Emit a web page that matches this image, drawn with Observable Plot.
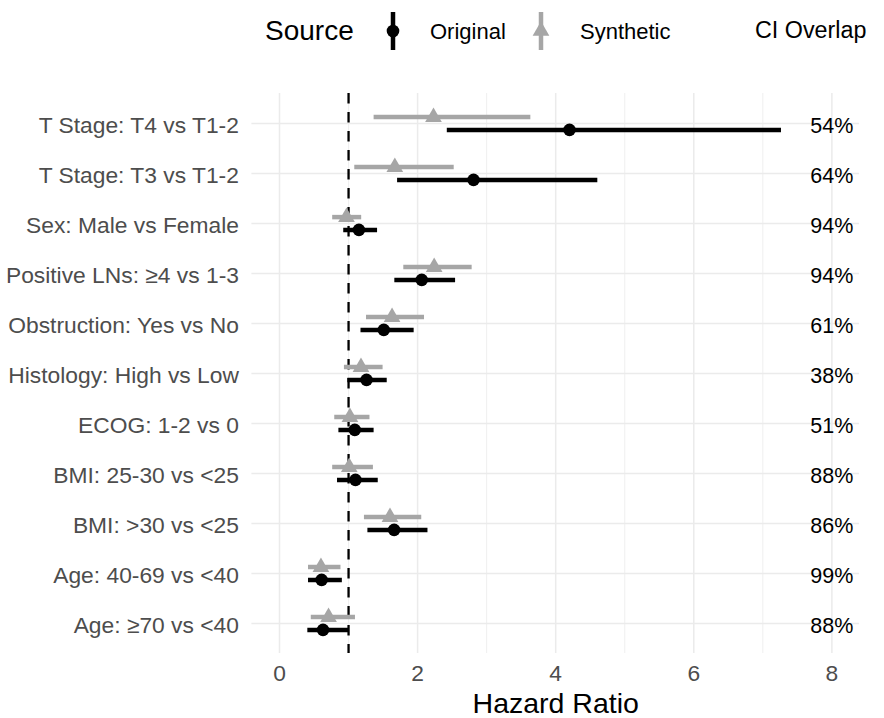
<!DOCTYPE html>
<html>
<head>
<meta charset="utf-8">
<script src="https://cdn.jsdelivr.net/npm/d3@7"></script>
<script src="https://cdn.jsdelivr.net/npm/@observablehq/plot@0.6"></script>
<style>
  html, body { margin: 0; padding: 0; background: #fff; }
  #wrap { position: relative; width: 884px; height: 718px; font-family: "Liberation Sans", Arial, sans-serif; }
  .lg { position: absolute; white-space: nowrap; color: #000; }
  #chart { position: absolute; left: 0; top: 0; }
</style>
</head>
<body>
<div id="wrap">
  <div id="chart"></div>
  <div class="lg" style="left:265px; top:17px; font-size:28px; line-height:28px;">Source</div>
  <svg class="lg" style="left:380px; top:8px;" width="26" height="46">
    <line x1="13" x2="13" y1="4" y2="42" stroke="#000" stroke-width="4.5"></line>
    <circle cx="13" cy="23" r="6.3" fill="#000"></circle>
  </svg>
  <div class="lg" style="left:430px; top:21px; font-size:22px; line-height:22px;">Original</div>
  <svg class="lg" style="left:528px; top:8px;" width="26" height="46">
    <line x1="13" x2="13" y1="4" y2="42" stroke="#A6A6A6" stroke-width="4.5"></line>
    <path id="legtri" fill="#A6A6A6"></path>
  </svg>
  <div class="lg" style="left:580px; top:21px; font-size:22px; line-height:22px;">Synthetic</div>
  <div class="lg" style="left:755px; top:19px; font-size:23.3px; line-height:23.3px;">CI Overlap</div>
</div>
<script>
const terms = [
  "T Stage: T4 vs T1-2",
  "T Stage: T3 vs T1-2",
  "Sex: Male vs Female",
  "Positive LNs: ≥4 vs 1-3",
  "Obstruction: Yes vs No",
  "Histology: High vs Low",
  "ECOG: 1-2 vs 0",
  "BMI: 25-30 vs <25",
  "BMI: >30 vs <25",
  "Age: 40-69 vs <40",
  "Age: ≥70 vs <40"
];
const origHR = [4.20, 2.81, 1.15, 2.06, 1.51, 1.26, 1.09, 1.10, 1.66, 0.61, 0.63];
const origLo = [2.43, 1.71, 0.93, 1.67, 1.18, 0.99, 0.86, 0.84, 1.28, 0.42, 0.41];
const origHi = [7.27, 4.61, 1.42, 2.55, 1.95, 1.56, 1.37, 1.43, 2.15, 0.91, 1.00];
const synHR  = [2.23, 1.67, 0.97, 2.24, 1.63, 1.18, 1.02, 1.01, 1.60, 0.60, 0.71];
const synLo  = [1.37, 1.09, 0.77, 1.80, 1.26, 0.94, 0.80, 0.77, 1.23, 0.42, 0.46];
const synHi  = [3.64, 2.53, 1.19, 2.79, 2.10, 1.50, 1.31, 1.36, 2.06, 0.89, 1.10];
const overlap = ["54%", "64%", "94%", "94%", "61%", "38%", "51%", "88%", "86%", "99%", "88%"];
const xTicks = [0, 2, 4, 6, 8];
const xMinor = [1, 3, 5, 7];
const refHR = 1;
const overlapX = 8;

const orig = terms.map((t, i) => ({term: t, hr: origHR[i], lo: origLo[i], hi: origHi[i]}));
const syn = terms.map((t, i) => ({term: t, hr: synHR[i], lo: synLo[i], hi: synHi[i]}));
const ov = terms.map((t, i) => ({term: t, label: overlap[i]}));

const GRAY = "#A6A6A6";
const DOD = 6.4;

const plot = Plot.plot({
  width: 884,
  height: 718,
  marginLeft: 251.4,
  marginRight: 25,
  marginTop: 93,
  marginBottom: 65,
  style: {fontFamily: "'Liberation Sans', Arial, sans-serif", background: "white"},
  x: {domain: [-0.4, 8.4]},
  y: {type: "point", domain: terms, padding: 0.6, round: false},
  marks: [
    Plot.gridX(xMinor, {stroke: "#EBEBEB", strokeOpacity: 1, strokeWidth: 0.8}),
    Plot.gridX(xTicks, {stroke: "#EBEBEB", strokeOpacity: 1, strokeWidth: 1.5}),
    Plot.gridY(terms, {stroke: "#EBEBEB", strokeOpacity: 1, strokeWidth: 1.5}),
    Plot.ruleX([refHR], {stroke: "#000", strokeWidth: 2.3, strokeDasharray: "10.5,8.5"}),
    Plot.ruleY(syn, {y: "term", x1: "lo", x2: "hi", dy: -DOD, stroke: GRAY, strokeWidth: 4.5}),
    Plot.dot(syn, {y: "term", x: "hr", dy: -DOD, symbol: "triangle", r: 6.2, fill: GRAY, stroke: "none"}),
    Plot.ruleY(orig, {y: "term", x1: "lo", x2: "hi", dy: DOD, stroke: "#000", strokeWidth: 4.5}),
    Plot.dot(orig, {y: "term", x: "hr", dy: DOD, symbol: "circle", r: 6.3, fill: "#000", stroke: "none"}),
    Plot.text(ov, {y: "term", x: () => overlapX, text: "label", fontSize: 21.5, fill: "#000", dy: 2.5, textAnchor: "middle"}),
    Plot.axisY({tickSize: 0, tickPadding: 13, fontSize: 22.8, color: "#4D4D4D", label: null, dy: 2.5}),
    Plot.axisX({ticks: xTicks, tickSize: 0, tickPadding: 11, fontSize: 22.8, color: "#4D4D4D", label: null, tickFormat: d3.format("d")}),
    Plot.text(["Hazard Ratio"], {frameAnchor: "bottom", dy: 50, fontSize: 28.5, fill: "#000", lineAnchor: "middle"})
  ]
});
document.getElementById("chart").appendChild(plot);

const tri = d3.symbol(d3.symbolTriangle, Math.PI * 6.2 * 6.2)();
const p = document.getElementById("legtri");
p.setAttribute("d", tri);
p.setAttribute("transform", "translate(13,23)");
</script>
</body>
</html>
